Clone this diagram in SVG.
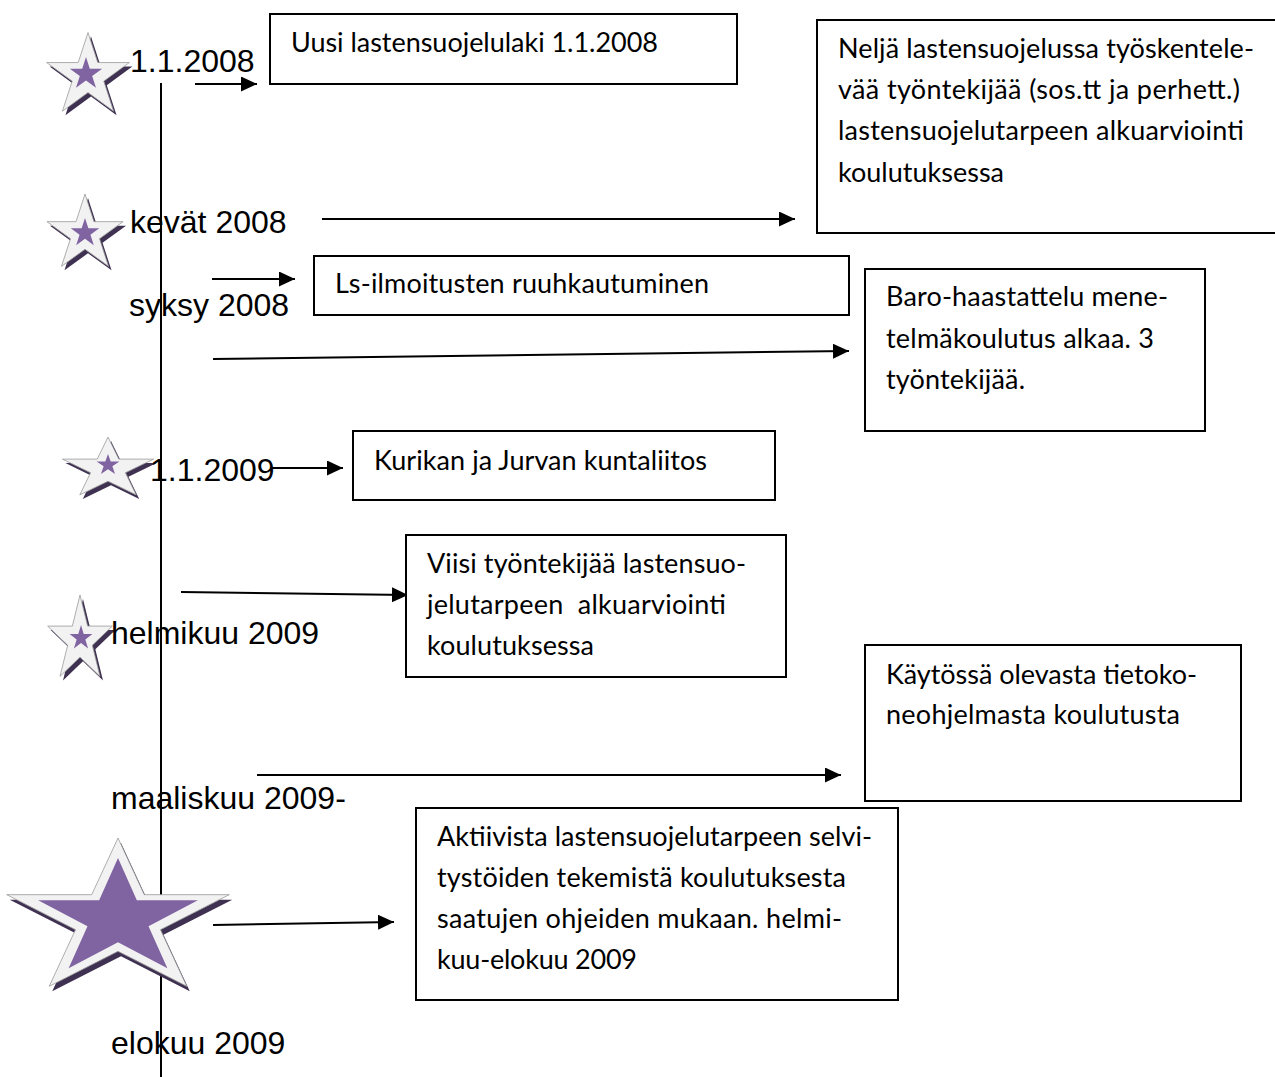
<svg xmlns="http://www.w3.org/2000/svg" width="1275" height="1077" viewBox="0 0 1275 1077">
  <style>
    .bg { fill: #ffffff; }
    .axis { stroke: #000; stroke-width: 2; }
    .conn { stroke: #000; stroke-width: 2; fill: none; marker-end: url(#head); }
    .box rect { fill: #ffffff; stroke: #000; stroke-width: 2; }
    .box text { font-family: "Lato", "Open Sans", sans-serif; font-size: 27px; fill: #000; }
    .lbl { font-family: "Liberation Sans", Arial, sans-serif; font-size: 32px; fill: #000; }
    .star-shadow { fill: #3f3151; stroke: none; }
    .star-rim { fill: #f2f2f2; stroke: #9a9a9a; stroke-width: 0.8; }
    .star-core { fill: #8064a2; stroke: none; }
  </style>
  <defs>
    <!-- unit five-point star, outer radius 1, inner radius 0.382 -->
    <path id="star" vector-effect="non-scaling-stroke" d="M0,-1 L0.2245,-0.309 L0.9511,-0.309 L0.3633,0.118 L0.5878,0.809 L0,0.382 L-0.5878,0.809 L-0.3633,0.118 L-0.9511,-0.309 L-0.2245,-0.309 Z"/>
    <marker id="head" markerUnits="userSpaceOnUse" markerWidth="17" markerHeight="15" refX="16" refY="7.5" orient="auto">
      <path d="M0,0 L16,7.5 L0,15 Z" fill="#000"/>
    </marker>
  </defs>

  <rect class="bg" x="0" y="0" width="1275" height="1077"/>

  <!-- timeline axis -->
  <line class="axis" x1="161" y1="83" x2="161" y2="1077"/>

  <!-- stars marking the milestones -->
  <g id="star-2008-01">
    <use href="#star" class="star-shadow" transform="translate(91,80) scale(43.5,43.5)"/>
    <use href="#star" class="star-rim" transform="translate(88,76) scale(43.5,43.5)"/>
    <use href="#star" class="star-core" transform="translate(86,74) scale(17,17)"/>
  </g>
  <g id="star-2008-spring">
    <use href="#star" class="star-shadow" transform="translate(88,238) scale(40,40)"/>
    <use href="#star" class="star-rim" transform="translate(85,234) scale(40,40)"/>
    <use href="#star" class="star-core" transform="translate(85,233) scale(15,15)"/>
  </g>
  <g id="star-2009-01">
    <use href="#star" class="star-shadow" transform="translate(111,473) scale(48,32)"/>
    <use href="#star" class="star-rim" transform="translate(108,469) scale(48,32)"/>
    <use href="#star" class="star-core" transform="translate(108,465) scale(12,11)"/>
  </g>
  <g id="star-2009-02">
    <use href="#star" class="star-shadow" transform="translate(83,644) scale(34,45)"/>
    <use href="#star" class="star-rim" transform="translate(80,640) scale(34,45)"/>
    <use href="#star" class="star-core" transform="translate(81,638) scale(12,13)"/>
  </g>
  <g id="star-2009-08">
    <use href="#star" class="star-shadow" transform="translate(121,925) scale(117,82)"/>
    <use href="#star" class="star-rim" transform="translate(118,920) scale(117,82)"/>
    <use href="#star" class="star-core" transform="translate(118,919) scale(84,61)"/>
  </g>

  <!-- date labels -->
  <g id="labels">
    <text class="lbl" x="130" y="72">1.1.2008</text>
    <text class="lbl" x="130" y="233">kevät 2008</text>
    <text class="lbl" x="129" y="316">syksy 2008</text>
    <text class="lbl" x="150" y="481">1.1.2009</text>
    <text class="lbl" x="111" y="644">helmikuu 2009</text>
    <text class="lbl" x="111" y="809">maaliskuu 2009-</text>
    <text class="lbl" x="111" y="1054">elokuu 2009</text>
  </g>

  <!-- connectors -->
  <g id="connectors">
    <line class="conn" x1="195" y1="84" x2="257" y2="84"/>
    <line class="conn" x1="322" y1="219" x2="795" y2="219"/>
    <line class="conn" x1="212" y1="279" x2="295" y2="279"/>
    <line class="conn" x1="213" y1="359" x2="849" y2="351"/>
    <line class="conn" x1="270" y1="468" x2="343" y2="468"/>
    <line class="conn" x1="181" y1="592" x2="408" y2="595"/>
    <line class="conn" x1="257" y1="775" x2="841" y2="775"/>
    <line class="conn" x1="213" y1="925" x2="394" y2="922"/>
  </g>

  <!-- event boxes -->
  <g id="box-law" class="box">
    <rect x="270" y="14" width="467" height="70"/>
    <text x="291" y="52" textLength="367">Uusi lastensuojelulaki 1.1.2008</text>
  </g>
  <g id="box-four-workers" class="box">
    <rect x="817" y="20" width="470" height="213"/>
    <text x="838" y="58" textLength="416">Neljä lastensuojelussa työskentele-</text>
    <text x="838" y="99" textLength="402">vää työntekijää (sos.tt ja perhett.)</text>
    <text x="838" y="140" textLength="406">lastensuojelutarpeen alkuarviointi</text>
    <text x="838" y="182" textLength="166">koulutuksessa</text>
  </g>
  <g id="box-reports" class="box">
    <rect x="314" y="256" width="535" height="59"/>
    <text x="335" y="293" textLength="374">Ls-ilmoitusten ruuhkautuminen</text>
  </g>
  <g id="box-baro" class="box">
    <rect x="865" y="269" width="340" height="162"/>
    <text x="886" y="306" textLength="282">Baro-haastattelu mene-</text>
    <text x="886" y="348" textLength="268">telmäkoulutus alkaa. 3</text>
    <text x="886" y="389" textLength="139">työntekijää.</text>
  </g>
  <g id="box-merger" class="box">
    <rect x="353" y="431" width="422" height="69"/>
    <text x="374" y="470" textLength="333">Kurikan ja Jurvan kuntaliitos</text>
  </g>
  <g id="box-five-workers" class="box">
    <rect x="406" y="535" width="380" height="142"/>
    <text x="427" y="573" textLength="319">Viisi työntekijää lastensuo-</text>
    <text x="427" y="614" textLength="299" xml:space="preserve">jelutarpeen  alkuarviointi</text>
    <text x="427" y="655" textLength="167">koulutuksessa</text>
  </g>
  <g id="box-software" class="box">
    <rect x="865" y="645" width="376" height="156"/>
    <text x="886" y="684" textLength="311">Käytössä olevasta tietoko-</text>
    <text x="886" y="724" textLength="294">neohjelmasta koulutusta</text>
  </g>
  <g id="box-active" class="box">
    <rect x="416" y="808" width="482" height="192"/>
    <text x="437" y="846" textLength="435">Aktiivista lastensuojelutarpeen selvi-</text>
    <text x="437" y="887" textLength="409">tystöiden tekemistä koulutuksesta</text>
    <text x="437" y="928" textLength="405">saatujen ohjeiden mukaan. helmi-</text>
    <text x="437" y="969" textLength="200">kuu-elokuu 2009</text>
  </g>
</svg>
